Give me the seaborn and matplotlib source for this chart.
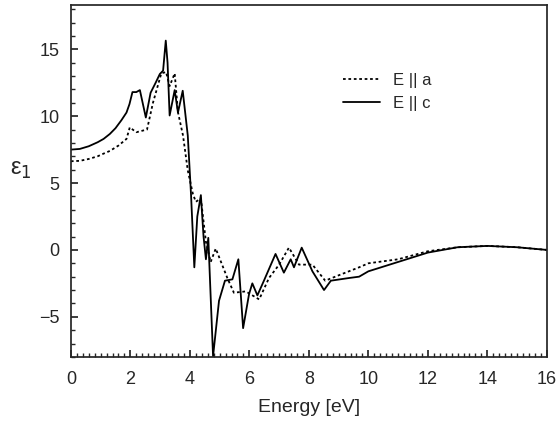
import matplotlib
matplotlib.use("Agg")
import matplotlib.pyplot as plt
import seaborn as sns
import pandas as pd
from matplotlib.ticker import MultipleLocator

energy_c = [0, 0.3, 0.6, 0.9, 1.1, 1.31, 1.5, 1.7, 1.87, 1.97, 2.07, 2.2, 2.32, 2.52, 2.68, 2.85, 2.99, 3.1, 3.19, 3.25, 3.32, 3.49, 3.6, 3.76, 3.93, 4.04, 4.15, 4.25, 4.37, 4.46, 4.54, 4.62, 4.78, 4.98, 5.18, 5.43, 5.63, 5.79, 5.99, 6.1, 6.27, 6.49, 6.88, 7.16, 7.39, 7.5, 7.76, 8.12, 8.51, 8.74, 9.35, 9.69, 10, 11, 12, 13, 14, 15, 16]
eps_c = [7.5, 7.55, 7.75, 8.05, 8.3, 8.67, 9.1, 9.7, 10.27, 10.9, 11.8, 11.8, 11.95, 9.9, 11.75, 12.5, 13.15, 13.4, 15.65, 14.0, 10.05, 11.95, 10.27, 11.9, 8.55, 4.1, -1.3, 2.5, 4.1, 1.0, -0.7, 0.9, -7.95, -3.8, -2.3, -2.2, -0.7, -5.85, -3.3, -2.5, -3.4, -2.3, -0.3, -1.7, -0.7, -1.3, 0.17, -1.6, -3.0, -2.3, -2.1, -2.0, -1.6, -0.9, -0.2, 0.2, 0.3, 0.2, 0.0]

energy_a = [0, 0.3, 0.6, 0.9, 1.1, 1.31, 1.6, 1.87, 1.98, 2.2, 2.56, 2.76, 3.04, 3.2, 3.32, 3.49, 3.6, 3.77, 3.93, 4.1, 4.2, 4.37, 4.54, 4.7, 4.87, 5.26, 5.48, 5.88, 6.33, 6.66, 7.0, 7.33, 7.67, 8.12, 8.55, 9.0, 9.69, 10, 11, 12, 13, 14, 15, 16]
eps_a = [6.63, 6.66, 6.8, 7.0, 7.2, 7.4, 7.8, 8.3, 9.16, 8.8, 9.0, 11.0, 13.2, 13.3, 12.25, 13.2, 10.3, 8.55, 5.95, 4.2, 3.6, 3.85, 0.6, -0.9, 0.1, -2.1, -3.2, -3.1, -3.7, -2.1, -1.1, 0.17, -1.1, -1.1, -2.3, -1.9, -1.3, -1.0, -0.7, -0.1, 0.2, 0.3, 0.2, 0.0]

sns.set_theme(style="ticks")
plt.rcParams['font.family'] = ['Liberation Sans', 'DejaVu Sans']

fig, ax = plt.subplots(figsize=(5.58, 4.29), dpi=100)
fig.subplots_adjust(left=0.127, right=0.98, top=0.988, bottom=0.168)

da = pd.DataFrame({"E": energy_a, "eps": eps_a})
dc = pd.DataFrame({"E": energy_c, "eps": eps_c})
sns.lineplot(data=da, x="E", y="eps", ax=ax, color="black", lw=1.3, linestyle=(0, (1.5, 1.5)), label="E || a")
sns.lineplot(data=dc, x="E", y="eps", ax=ax, color="black", lw=1.3, label="E || c")

ax.set_xlim(0, 16)
ax.set_ylim(-8, 18.3)
ax.xaxis.set_major_locator(MultipleLocator(2))
ax.xaxis.set_minor_locator(MultipleLocator(0.2))
ax.yaxis.set_major_locator(MultipleLocator(5))
ax.yaxis.set_minor_locator(MultipleLocator(1))
ax.tick_params(which="both", direction="in", labelsize=13)
ax.tick_params(axis="x", pad=10)
ax.tick_params(axis="y", pad=8)
ax.tick_params(which="major", length=5)
ax.tick_params(which="minor", length=3)
ax.set_xlabel("Energy [eV]", fontsize=14, labelpad=8)
ax.set_ylabel("ε$_1$", fontsize=17, labelpad=10, rotation=0)
ax.yaxis.set_label_coords(-0.105, 0.5)
ax.legend(loc="upper left", bbox_to_anchor=(0.54, 0.85), frameon=False, fontsize=12, handlelength=2.2)
fig.savefig("out.png")
